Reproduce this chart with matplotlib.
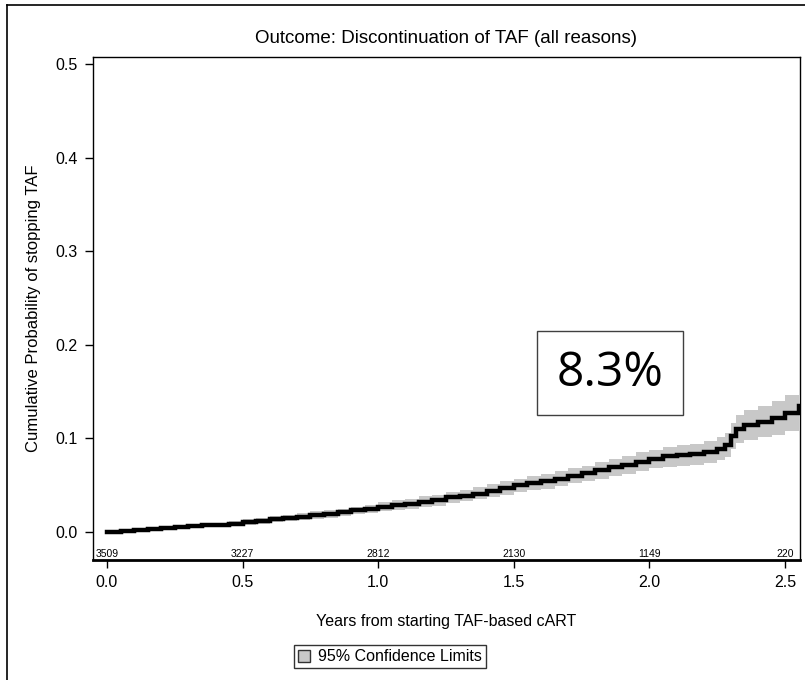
import matplotlib
matplotlib.use("Agg")
import matplotlib.pyplot as plt
from matplotlib.lines import Line2D
from matplotlib.patches import Patch, Rectangle

# Kaplan-Meier style cumulative incidence
years = [0.00, 0.05, 0.10, 0.15, 0.20, 0.25, 0.30, 0.35, 0.40, 0.45,
         0.50, 0.55, 0.60, 0.65, 0.70, 0.75, 0.80, 0.85, 0.90, 0.95,
         1.00, 1.05, 1.10, 1.15, 1.20, 1.25, 1.30, 1.35, 1.40, 1.45,
         1.50, 1.55, 1.60, 1.65, 1.70, 1.75, 1.80, 1.85, 1.90, 1.95,
         2.00, 2.05, 2.10, 2.15, 2.20, 2.25, 2.28, 2.30, 2.32, 2.35,
         2.40, 2.45, 2.50, 2.55]
estimate = [0.000, 0.001, 0.002, 0.003, 0.004, 0.005, 0.006, 0.007, 0.008, 0.009,
            0.011, 0.012, 0.014, 0.015, 0.016, 0.018, 0.019, 0.021, 0.023, 0.025,
            0.027, 0.029, 0.030, 0.032, 0.034, 0.037, 0.039, 0.041, 0.044, 0.047,
            0.050, 0.052, 0.054, 0.057, 0.060, 0.063, 0.066, 0.069, 0.072, 0.075,
            0.078, 0.081, 0.082, 0.083, 0.085, 0.089, 0.093, 0.103, 0.110, 0.114,
            0.118, 0.122, 0.127, 0.135]
lower = [0.000, 0.000, 0.001, 0.002, 0.002, 0.003, 0.004, 0.005, 0.006, 0.007,
         0.008, 0.009, 0.011, 0.012, 0.013, 0.014, 0.015, 0.017, 0.019, 0.020,
         0.022, 0.024, 0.025, 0.027, 0.028, 0.031, 0.033, 0.035, 0.037, 0.040,
         0.043, 0.045, 0.046, 0.049, 0.052, 0.054, 0.057, 0.060, 0.062, 0.065,
         0.068, 0.070, 0.071, 0.072, 0.074, 0.077, 0.080, 0.089, 0.095, 0.098,
         0.101, 0.104, 0.108, 0.114]
upper = [0.001, 0.002, 0.003, 0.004, 0.006, 0.007, 0.008, 0.009, 0.010, 0.012,
         0.014, 0.015, 0.017, 0.018, 0.020, 0.022, 0.023, 0.025, 0.027, 0.029,
         0.032, 0.034, 0.035, 0.038, 0.040, 0.043, 0.045, 0.048, 0.051, 0.054,
         0.057, 0.060, 0.062, 0.065, 0.068, 0.071, 0.075, 0.078, 0.081, 0.085,
         0.088, 0.091, 0.093, 0.094, 0.097, 0.101, 0.106, 0.117, 0.125, 0.130,
         0.135, 0.140, 0.146, 0.160]

risk_times = [0.0, 0.5, 1.0, 1.5, 2.0, 2.5]
at_risk = ["3509", "3227", "2812", "2130", "1149", "220"]

x_ticks = [0.0, 0.5, 1.0, 1.5, 2.0, 2.5]
y_ticks = [0.0, 0.1, 0.2, 0.3, 0.4, 0.5]
summary_label = "8.3%"

FONT = ["Liberation Sans Narrow", "Liberation Sans", "DejaVu Sans"]
plt.rcParams["font.family"] = FONT

fig = plt.figure(figsize=(8.05, 6.8), dpi=100)
ax = fig.add_axes([0.1155, 0.1765, 0.8783, 0.7395])

ax.fill_between(years, lower, upper, step="post", color="#c8c8c8", lw=0)
ax.plot(years, estimate, drawstyle="steps-post", color="black", lw=3.2,
        solid_joinstyle="miter")

ax.set_xlim(-0.0516, 2.555)
ax.set_ylim(-0.0299, 0.5075)
ax.set_xticks(x_ticks)
ax.set_xticklabels([f"{v:.1f}" for v in x_ticks])
ax.set_yticks(y_ticks)
ax.set_yticklabels([f"{v:.1f}" for v in y_ticks])
ax.tick_params(direction="out", length=6, width=1, labelsize=11.5, pad=5)
for side in ["left", "top", "right"]:
    ax.spines[side].set_linewidth(1.0)
ax.spines["bottom"].set_linewidth(2.0)

# numbers at risk just above the x axis
for t, n in zip(risk_times, at_risk):
    ax.text(t, -0.0235, n, ha="center", va="center", fontsize=7.5)

ax.set_title("Outcome: Discontinuation of TAF (all reasons)", fontsize=13.5, pad=10)
ax.set_xlabel("Years from starting TAF-based cART", fontsize=11.5, labelpad=17)
ax.set_ylabel("Cumulative Probability of stopping TAF", fontsize=12, labelpad=10)

# summary box
ax.add_patch(Rectangle((1.584, 0.1255), 0.539, 0.0890, fill=False,
                       edgecolor="#404040", lw=1.0))
ax.text(1.8535, 0.170, summary_label, ha="center", va="center", fontsize=34.5,
        family=["Open Sans", "DejaVu Sans"])

fig.legend(handles=[Patch(facecolor="#c8c8c8", edgecolor="#333333", lw=1.0,
                          label="95% Confidence Limits")],
           loc="center", bbox_to_anchor=(0.484, 0.034), fontsize=11.5,
           frameon=True, fancybox=False, edgecolor="black", handlelength=0.75,
           handleheight=0.75, handletextpad=0.5, borderpad=0.25)

# outer frame (only left and top edges visible in the reference)
fig.add_artist(Line2D([0.009, 0.009], [0.0, 0.993], transform=fig.transFigure,
                      color="black", lw=1.2))
fig.add_artist(Line2D([0.009, 1.0], [0.993, 0.993], transform=fig.transFigure,
                      color="black", lw=1.2))

fig.savefig("out.png", dpi=100)
